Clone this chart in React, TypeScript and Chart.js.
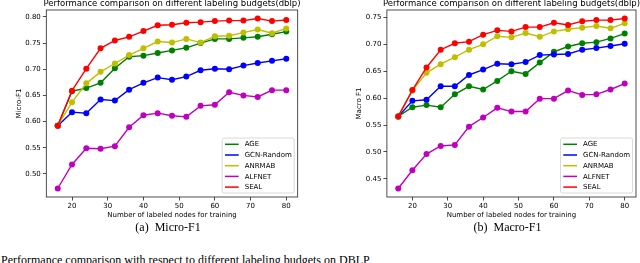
import React, { useEffect, useRef } from "react";
import { Chart, registerables } from "chart.js";

Chart.register(...registerables);

const budgets = [16, 20, 24, 28, 32, 36, 40, 44, 48, 52, 56, 60, 64, 68, 72, 76, 80];
const xTicks = [20, 30, 40, 50, 60, 70, 80];
const microTicks = [0.5, 0.55, 0.6, 0.65, 0.7, 0.75, 0.8];
const macroTicks = [0.45, 0.5, 0.55, 0.6, 0.65, 0.7, 0.75];

const microAGE = [0.592, 0.658, 0.664, 0.674, 0.702, 0.724, 0.726, 0.731, 0.736, 0.741, 0.75, 0.758, 0.758, 0.76, 0.762, 0.767, 0.772];
const microGCN = [0.592, 0.618, 0.616, 0.642, 0.64, 0.661, 0.674, 0.684, 0.68, 0.686, 0.698, 0.701, 0.7, 0.707, 0.712, 0.716, 0.72];
const microANRMAB = [0.592, 0.637, 0.673, 0.695, 0.711, 0.727, 0.74, 0.753, 0.751, 0.758, 0.751, 0.763, 0.764, 0.77, 0.776, 0.769, 0.778];
const microALFNET = [0.472, 0.518, 0.549, 0.548, 0.553, 0.589, 0.612, 0.616, 0.611, 0.609, 0.63, 0.632, 0.656, 0.65, 0.647, 0.66, 0.66];
const microSEAL = [0.592, 0.659, 0.701, 0.74, 0.755, 0.762, 0.773, 0.784, 0.785, 0.789, 0.79, 0.792, 0.793, 0.793, 0.797, 0.792, 0.794];

const macroAGE = [0.566, 0.583, 0.587, 0.583, 0.607, 0.622, 0.616, 0.632, 0.65, 0.645, 0.666, 0.686, 0.696, 0.702, 0.704, 0.711, 0.72];
const macroGCN = [0.566, 0.595, 0.597, 0.622, 0.622, 0.643, 0.653, 0.664, 0.663, 0.667, 0.68, 0.681, 0.682, 0.69, 0.693, 0.697, 0.701];
const macroANRMAB = [0.566, 0.614, 0.647, 0.663, 0.676, 0.69, 0.7, 0.715, 0.713, 0.721, 0.714, 0.724, 0.728, 0.731, 0.734, 0.73, 0.739];
const macroALFNET = [0.432, 0.466, 0.496, 0.511, 0.513, 0.547, 0.564, 0.582, 0.575, 0.575, 0.599, 0.599, 0.614, 0.606, 0.607, 0.616, 0.627];
const macroSEAL = [0.566, 0.615, 0.657, 0.69, 0.702, 0.705, 0.718, 0.726, 0.724, 0.732, 0.732, 0.74, 0.736, 0.743, 0.745, 0.745, 0.748];

const methodNames = ["AGE", "GCN-Random", "ANRMAB", "ALFNET", "SEAL"];
const methodColors = ["#008000", "#0000ff", "#bfbf00", "#bf00bf", "#ff0000"];

const chartTitle = "Performance comparison on different labeling budgets(dblp)";
const xLabel = "Number of labeled nodes for training";

const FONT = '"DejaVu Sans", sans-serif';
const CANVAS_W = 320;
const CANVAS_H = 222;

type PanelProps = {
  series: number[][];
  yTicks: number[];
  yLabel: string;
  plotLeft: number;
  plotRight: number;
  yLabelX: number;
  left: number;
};

function Panel({ series, yTicks, yLabel, plotLeft, plotRight, yLabelX, left }: PanelProps) {
  const ref = useRef<HTMLCanvasElement | null>(null);

  useEffect(() => {
    if (!ref.current) return;
    const all = series.flat();
    const lo = Math.min(...all);
    const hi = Math.max(...all);
    const r = hi - lo;
    const xr = budgets[budgets.length - 1] - budgets[0];

    const decor = {
      id: "decor",
      afterDraw(chart: any) {
        const { ctx, chartArea: a } = chart;
        ctx.save();
        ctx.strokeStyle = "#222";
        ctx.lineWidth = 0.8;
        ctx.strokeRect(a.left, a.top, a.right - a.left, a.bottom - a.top);

        ctx.fillStyle = "#000";
        ctx.textAlign = "center";
        ctx.textBaseline = "alphabetic";
        ctx.font = `8.5px ${FONT}`;
        ctx.fillText(chartTitle, (a.left + a.right) / 2, 5.8);
        ctx.font = `7px ${FONT}`;
        ctx.fillText(xLabel, (a.left + a.right) / 2, 216.7);

        ctx.save();
        ctx.translate(yLabelX, (a.top + a.bottom) / 2);
        ctx.rotate(-Math.PI / 2);
        ctx.textBaseline = "middle";
        ctx.fillText(yLabel, 0, 0);
        ctx.restore();

        // legend
        const w = 72;
        const h = 55;
        const bx = a.right - 3.5 - w;
        const by = a.bottom - 4 - h;
        ctx.beginPath();
        if ((ctx as any).roundRect) (ctx as any).roundRect(bx, by, w, h, 2);
        else ctx.rect(bx, by, w, h);
        ctx.fillStyle = "rgba(255,255,255,0.85)";
        ctx.fill();
        ctx.strokeStyle = "#d0d0d0";
        ctx.lineWidth = 0.8;
        ctx.stroke();
        ctx.textAlign = "left";
        ctx.textBaseline = "middle";
        ctx.font = `7px ${FONT}`;
        methodNames.forEach((name, i) => {
          const yy = by + 6.3 + i * 10.7;
          ctx.beginPath();
          ctx.moveTo(bx + 2.8, yy);
          ctx.lineTo(bx + 16.5, yy);
          ctx.strokeStyle = methodColors[i];
          ctx.lineWidth = 1.5;
          ctx.stroke();
          ctx.fillStyle = "#000";
          ctx.fillText(name, bx + 22.5, yy + 0.3);
        });
        ctx.restore();
      },
    };

    const gridOpts = {
      display: true,
      drawOnChartArea: false,
      drawTicks: true,
      tickLength: 3.5,
      color: "#222",
      lineWidth: 0.8,
    };

    const chart = new Chart(ref.current, {
      type: "line",
      data: {
        datasets: series.map((vals, i) => ({
          label: methodNames[i],
          data: budgets.map((b, j) => ({ x: b, y: vals[j] })),
          borderColor: methodColors[i],
          backgroundColor: methodColors[i],
          pointBackgroundColor: methodColors[i],
          pointBorderWidth: 0,
          pointRadius: 3,
          borderWidth: 1.4,
          tension: 0,
          fill: false,
          order: 5 - i,
        })),
      },
      options: {
        animation: false,
        responsive: false,
        devicePixelRatio: 1,
        events: [],
        layout: { padding: { top: 10, right: CANVAS_W - plotRight, bottom: 0, left: 0 } },
        plugins: {
          legend: { display: false },
          title: { display: false },
          tooltip: { enabled: false },
        },
        scales: {
          x: {
            type: "linear",
            min: budgets[0] - 0.05 * xr,
            max: budgets[budgets.length - 1] + 0.05 * xr,
            afterBuildTicks: (s: any) => {
              s.ticks = xTicks.map((v) => ({ value: v }));
            },
            afterFit: (s: any) => {
              s.height = CANVAS_H - 197;
            },
            grid: gridOpts,
            border: { display: false },
            ticks: {
              font: { family: FONT, size: 7 },
              color: "#000",
              padding: 1.5,
              maxRotation: 0,
              autoSkip: false,
              callback: (v: any) => String(v),
            },
          },
          y: {
            type: "linear",
            min: lo - 0.05 * r,
            max: hi + 0.05 * r,
            afterBuildTicks: (s: any) => {
              s.ticks = yTicks.map((v) => ({ value: v }));
            },
            afterFit: (s: any) => {
              s.width = plotLeft;
            },
            grid: gridOpts,
            border: { display: false },
            ticks: {
              font: { family: FONT, size: 7 },
              color: "#000",
              padding: 2,
              autoSkip: false,
              callback: (v: any) => Number(v).toFixed(2),
            },
          },
        },
      },
      plugins: [decor],
    } as any);
    return () => chart.destroy();
  }, []);

  return (
    <canvas
      ref={ref}
      width={CANVAS_W}
      height={CANVAS_H}
      style={{ position: "absolute", left, top: 0, width: CANVAS_W, height: CANVAS_H, display: "block" }}
    />
  );
}

const captionStyle: React.CSSProperties = {
  position: "absolute",
  top: 221,
  fontFamily: '"Liberation Serif", "Times New Roman", serif',
  fontSize: 12,
  lineHeight: "12px",
  whiteSpace: "nowrap",
  transform: "translateX(-50%)",
  color: "#000",
};

export default function App() {
  return (
    <div
      style={{
        position: "fixed",
        left: 0,
        top: 0,
        width: 640,
        height: 263,
        overflow: "hidden",
        background: "#fff",
      }}
    >
      <Panel
        series={[microAGE, microGCN, microANRMAB, microALFNET, microSEAL]}
        yTicks={microTicks}
        yLabel="Micro-F1"
        plotLeft={46.3}
        plotRight={297.7}
        yLabelX={19.5}
        left={0}
      />
      <Panel
        series={[macroAGE, macroGCN, macroANRMAB, macroALFNET, macroSEAL]}
        yTicks={macroTicks}
        yLabel="Macro F1"
        plotLeft={66.9}
        plotRight={317.4}
        yLabelX={38.8}
        left={320}
      />
      <div style={{ ...captionStyle, left: 168 }}>(a)&nbsp; Micro-F1</div>
      <div style={{ ...captionStyle, left: 507.5 }}>(b)&nbsp; Macro-F1</div>
      <div
        style={{
          position: "absolute",
          left: 1,
          top: 254,
          fontFamily: '"Liberation Serif", "Times New Roman", serif',
          fontSize: 12,
          lineHeight: "12px",
          whiteSpace: "nowrap",
          color: "#000",
        }}
      >
        Performance comparison with respect to different labeling budgets on DBLP
      </div>
    </div>
  );
}
